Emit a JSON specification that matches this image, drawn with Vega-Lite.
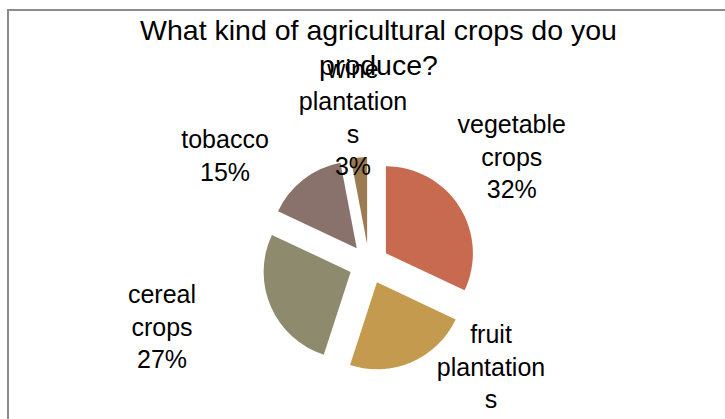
{
  "$schema": "https://vega.github.io/schema/vega-lite/v6.json",
  "autosize": "none",
  "width": 722,
  "height": 508,
  "padding": {"left": 8, "top": 10, "right": 0, "bottom": 0},
  "background": "white",
  "view": {"stroke": "#8c8c8c", "strokeWidth": 2, "fill": null},
  "config": {"view": {"stroke": "#8c8c8c", "strokeWidth": 2}, "font": "Liberation Sans"},
  "title": {
    "text": ["What kind of agricultural crops do you", "produce?"],
    "font": "Liberation Sans",
    "fontSize": 28.5,
    "fontWeight": "normal",
    "lineHeight": 35,
    "color": "#000000",
    "anchor": "middle",
    "dx": 9.5,
    "offset": -93,
    "baseline": "alphabetic"
  },
  "data": {
    "values": [
      {"cat": "vegetable crops", "pct": 32, "label": "vegetable\ncrops\n32%", "i": 1},
      {"cat": "fruit plantations", "pct": 23, "label": "fruit\nplantation\ns", "i": 2},
      {"cat": "cereal crops", "pct": 27, "label": "cereal\ncrops\n27%", "i": 3},
      {"cat": "tobacco", "pct": 15, "label": "tobacco\n15%", "i": 4},
      {"cat": "wine plantations", "pct": 3, "label": "wine\nplantation\ns\n3%", "i": 5}
    ]
  },
  "encoding": {
    "theta": {"field": "pct", "type": "quantitative", "stack": true},
    "order": {"field": "i", "type": "quantitative"},
    "detail": {"field": "cat", "type": "nominal"}
  },
  "layer": [
    {
      "mark": {
        "type": "arc",
        "outerRadius": 87,
        "xOffset": {"expr": "20*sin(scale('theta', (datum.pct_start + datum.pct_end)/2))"},
        "yOffset": {"expr": "-20*cos(scale('theta', (datum.pct_start + datum.pct_end)/2))"}
      },
      "encoding": {
        "color": {
          "field": "cat",
          "type": "nominal",
          "legend": null,
          "scale": {
            "domain": ["vegetable crops", "fruit plantations", "cereal crops", "tobacco", "wine plantations"],
            "range": ["#c86a50", "#c49a4e", "#8e8a6e", "#8a726c", "#9c7a52"]
          }
        }
      }
    },
    {
      "mark": {
        "type": "text",
        "radius": 175,
        "font": "Liberation Sans",
        "fontSize": 25,
        "lineHeight": 32.5,
        "lineBreak": "\n",
        "align": "center",
        "baseline": "middle",
        "color": "#000000",
        "dx": {"expr": "datum.cat=='vegetable crops' ? -5 : datum.cat=='fruit plantations' ? 52.5 : datum.cat=='cereal crops' ? -46.4 : datum.cat=='tobacco' ? -36.7 : 0.5"},
        "dy": {"expr": "datum.cat=='vegetable crops' ? -45.2 : datum.cat=='fruit plantations' ? -89.6 : datum.cat=='cereal crops' ? -38.5 : datum.cat=='tobacco' ? 14.3 : -19.8"}
      },
      "encoding": {
        "text": {"field": "label", "type": "nominal"}
      }
    }
  ]
}
